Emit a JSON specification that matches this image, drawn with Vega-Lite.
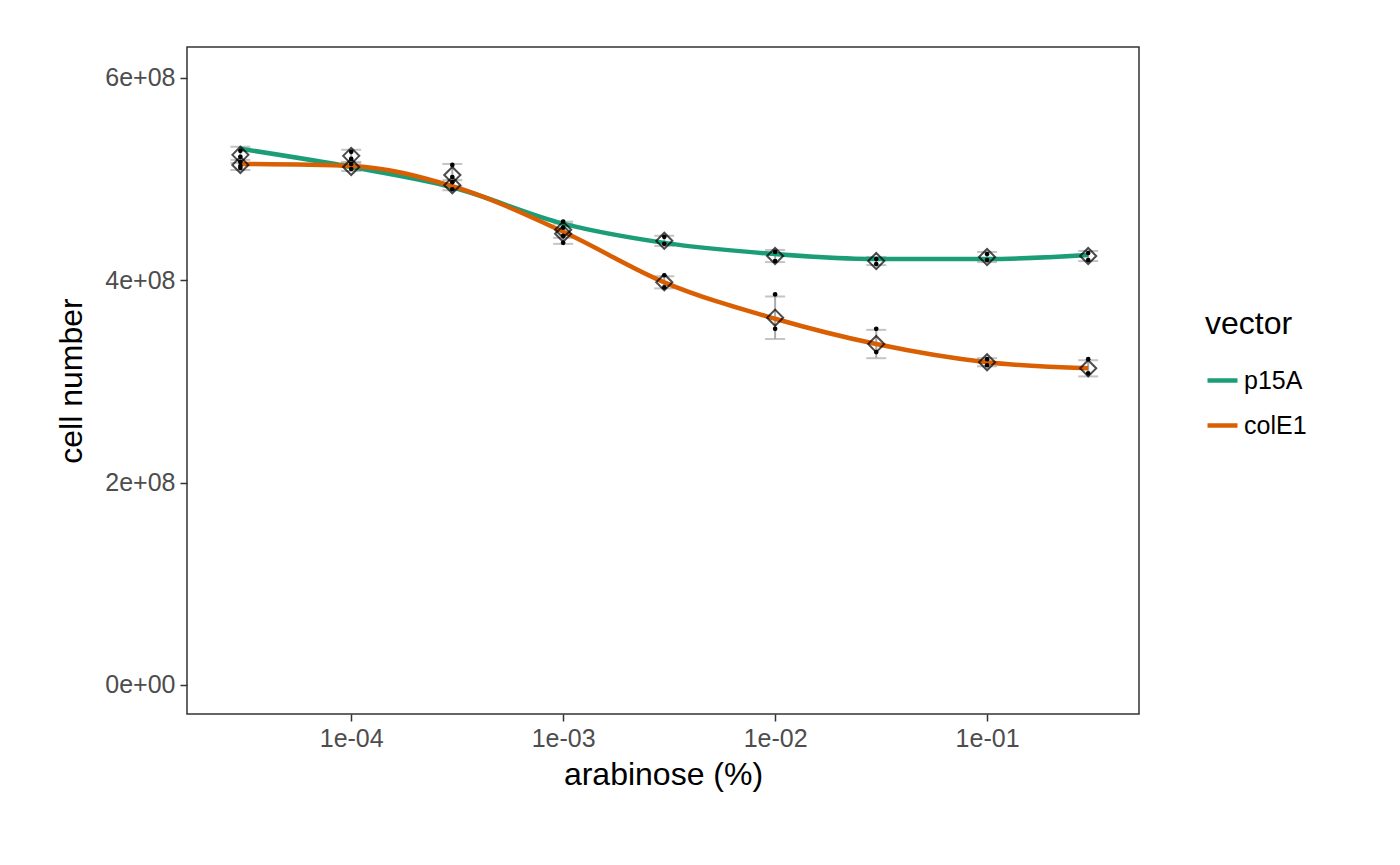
{
  "$schema": "https://vega.github.io/schema/vega-lite/v6.json",
  "width": 952,
  "height": 667,
  "autosize": "none",
  "padding": {"left": 187, "top": 47, "right": 261, "bottom": 151},
  "background": "white",
  "config": {
    "font": "Liberation Sans",
    "view": {"stroke": "#333333", "strokeWidth": 1.5},
    "axis": {"grid": false, "domain": false, "tickColor": "#333333", "tickSize": 7, "tickWidth": 1.5,
             "labelColor": "#4D4D4D", "labelFontSize": 25, "titleFontSize": 32, "titleFontWeight": "normal", "titleColor": "black", "labelPadding": 5},
    "axisY": {"titlePadding": 16},
    "axisX": {"titlePadding": 8}
  },
  "datasets": {
    "means": [
      {"x": 0.00003, "vector": "p15A", "mean": 5.24e8, "lo": 5.16e8, "hi": 5.32e8, "fit": 5.30e8},
      {"x": 0.0001, "vector": "p15A", "mean": 5.23e8, "lo": 5.17e8, "hi": 5.29e8, "fit": 5.12e8},
      {"x": 0.0003, "vector": "p15A", "mean": 5.04e8, "lo": 4.93e8, "hi": 5.15e8, "fit": 4.92e8},
      {"x": 0.001, "vector": "p15A", "mean": 4.50e8, "lo": 4.42e8, "hi": 4.58e8, "fit": 4.56e8},
      {"x": 0.003, "vector": "p15A", "mean": 4.39e8, "lo": 4.34e8, "hi": 4.44e8, "fit": 4.37e8},
      {"x": 0.01, "vector": "p15A", "mean": 4.24e8, "lo": 4.18e8, "hi": 4.30e8, "fit": 4.26e8},
      {"x": 0.03, "vector": "p15A", "mean": 4.19e8, "lo": 4.15e8, "hi": 4.23e8, "fit": 4.21e8},
      {"x": 0.1, "vector": "p15A", "mean": 4.23e8, "lo": 4.18e8, "hi": 4.28e8, "fit": 4.21e8},
      {"x": 0.3, "vector": "p15A", "mean": 4.24e8, "lo": 4.19e8, "hi": 4.29e8, "fit": 4.25e8},
      {"x": 0.00003, "vector": "colE1", "mean": 5.14e8, "lo": 5.09e8, "hi": 5.19e8, "fit": 5.15e8},
      {"x": 0.0001, "vector": "colE1", "mean": 5.12e8, "lo": 5.08e8, "hi": 5.16e8, "fit": 5.13e8},
      {"x": 0.0003, "vector": "colE1", "mean": 4.94e8, "lo": 4.89e8, "hi": 4.99e8, "fit": 4.93e8},
      {"x": 0.001, "vector": "colE1", "mean": 4.46e8, "lo": 4.36e8, "hi": 4.56e8, "fit": 4.48e8},
      {"x": 0.003, "vector": "colE1", "mean": 3.98e8, "lo": 3.92e8, "hi": 4.04e8, "fit": 3.98e8},
      {"x": 0.01, "vector": "colE1", "mean": 3.63e8, "lo": 3.42e8, "hi": 3.84e8, "fit": 3.62e8},
      {"x": 0.03, "vector": "colE1", "mean": 3.37e8, "lo": 3.23e8, "hi": 3.51e8, "fit": 3.37e8},
      {"x": 0.1, "vector": "colE1", "mean": 3.19e8, "lo": 3.15e8, "hi": 3.23e8, "fit": 3.19e8},
      {"x": 0.3, "vector": "colE1", "mean": 3.13e8, "lo": 3.05e8, "hi": 3.21e8, "fit": 3.13e8}
    ],
    "reps": [
      {"x": 0.00003, "value": 5.28e8}, {"x": 0.00003, "value": 5.22e8}, {"x": 0.00003, "value": 5.11e8},
      {"x": 0.00003, "value": 5.17e8}, {"x": 0.00003, "value": 5.13e8},
      {"x": 0.0001, "value": 5.27e8}, {"x": 0.0001, "value": 5.20e8}, {"x": 0.0001, "value": 5.10e8},
      {"x": 0.0001, "value": 5.15e8},
      {"x": 0.0003, "value": 5.14e8}, {"x": 0.0003, "value": 5.02e8}, {"x": 0.0003, "value": 4.97e8},
      {"x": 0.0003, "value": 4.90e8},
      {"x": 0.001, "value": 4.58e8}, {"x": 0.001, "value": 4.52e8}, {"x": 0.001, "value": 4.44e8},
      {"x": 0.001, "value": 4.37e8},
      {"x": 0.003, "value": 4.43e8}, {"x": 0.003, "value": 4.36e8}, {"x": 0.003, "value": 4.05e8},
      {"x": 0.003, "value": 3.93e8},
      {"x": 0.01, "value": 4.28e8}, {"x": 0.01, "value": 4.19e8}, {"x": 0.01, "value": 3.86e8},
      {"x": 0.01, "value": 3.52e8},
      {"x": 0.03, "value": 4.21e8}, {"x": 0.03, "value": 4.16e8}, {"x": 0.03, "value": 3.52e8},
      {"x": 0.03, "value": 3.29e8},
      {"x": 0.1, "value": 4.26e8}, {"x": 0.1, "value": 4.20e8}, {"x": 0.1, "value": 3.22e8},
      {"x": 0.1, "value": 3.16e8},
      {"x": 0.3, "value": 4.27e8}, {"x": 0.3, "value": 4.20e8}, {"x": 0.3, "value": 3.22e8},
      {"x": 0.3, "value": 3.08e8}
    ]
  },
  "encoding": {
    "x": {"field": "x", "type": "quantitative",
          "scale": {"type": "log", "domain": [0.0000168, 0.521], "nice": false},
          "axis": {"values": [0.0001, 0.001, 0.01, 0.1], "title": "arabinose (%)",
                   "labelExpr": "replace(format(datum.value, '.0e'), 'e-', 'e-0')"}}
  },
  "layer": [
    {
      "data": {"name": "means"},
      "mark": {"type": "errorbar", "ticks": {"size": 20, "strokeWidth": 2.5}, "color": "#ABABAB", "thickness": 2},
      "encoding": {
        "y": {"field": "lo", "type": "quantitative", "title": "cell number"},
        "y2": {"field": "hi"}
      }
    },
    {
      "data": {"name": "means"},
      "mark": {"type": "line", "interpolate": "monotone", "strokeWidth": 4.5},
      "encoding": {
        "y": {"field": "fit", "type": "quantitative", "title": "cell number",
              "scale": {"domain": [-0.287e8, 6.306e8], "nice": false, "zero": false},
              "axis": {"values": [0, 2e8, 4e8, 6e8], "title": "cell number",
                       "labelExpr": "replace(format(datum.value, '.0e'), 'e+', 'e+0')"}},
        "color": {"field": "vector", "type": "nominal",
                  "scale": {"domain": ["p15A", "colE1"], "range": ["#1B9E77", "#D95F02"]},
                  "legend": {"title": "vector", "titleFontSize": 32, "titleFontWeight": "normal", "labelFontSize": 25,
                             "symbolStrokeWidth": 4.5, "symbolSize": 900, "titlePadding": 22, "rowPadding": 14,
                             "orient": "none", "legendX": 1018, "legendY": 262, "padding": 0}}
      }
    },
    {
      "data": {"name": "reps"},
      "mark": {"type": "circle", "color": "black", "size": 22, "opacity": 1},
      "encoding": {"y": {"field": "value", "type": "quantitative", "title": "cell number"}}
    },
    {
      "data": {"name": "means"},
      "mark": {"type": "point", "shape": "diamond", "filled": false, "stroke": "black", "strokeWidth": 2, "size": 260},
      "encoding": {"y": {"field": "mean", "type": "quantitative", "title": "cell number"}}
    }
  ]
}
